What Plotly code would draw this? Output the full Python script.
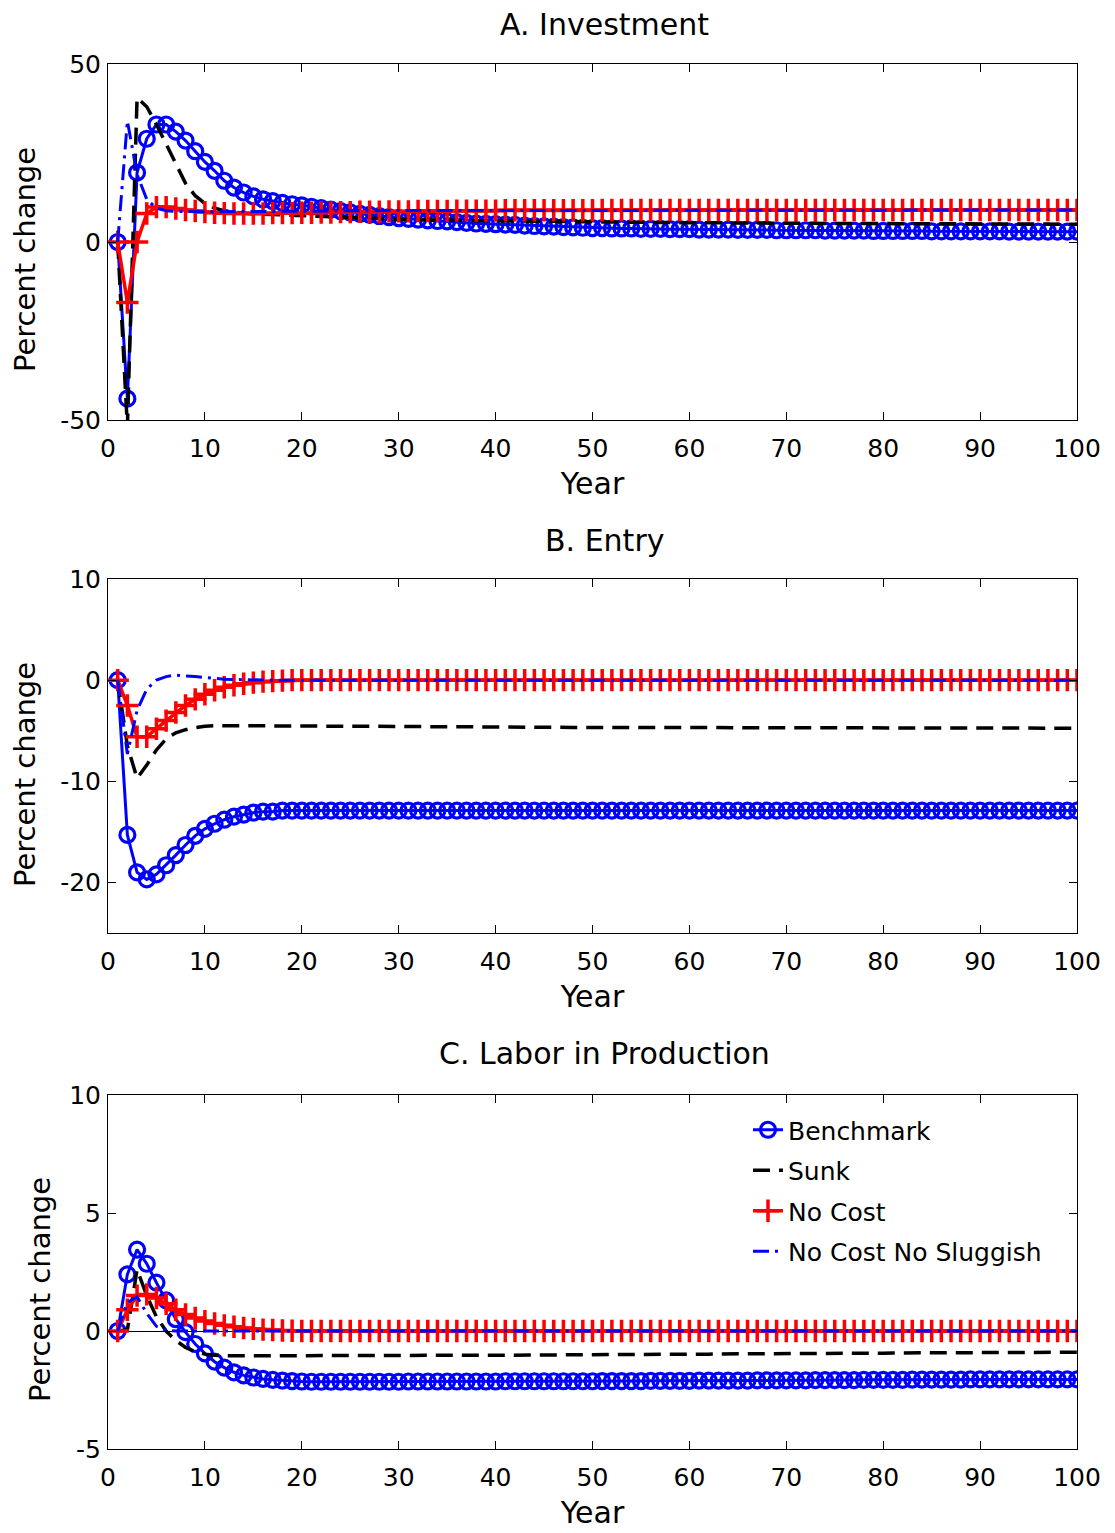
import plotly.graph_objects as go

years = list(range(1, 101))

# ---------------- Panel A: Investment ----------------
inv_bench = [0, -44, 19.5, 29, 33, 33, 31, 28.5, 25.5, 22.5,
             20, 17.2, 15.3, 13.9, 12.8, 12.0, 11.5, 11.0, 10.6, 10.3,
             9.9, 9.5, 9.1, 8.7, 8.3, 7.9, 7.6, 7.3, 7.0, 6.7,
             6.5, 6.3, 6.1, 5.9, 5.8, 5.6, 5.4, 5.2, 5.1, 5.0,
             4.9, 4.8, 4.6, 4.5, 4.4, 4.3, 4.2, 4.1, 4.0, 3.9,
             3.9, 3.8, 3.8, 3.8, 3.7, 3.7, 3.7, 3.6, 3.6, 3.6,
             3.5, 3.5, 3.5, 3.5, 3.4, 3.4, 3.4, 3.4, 3.3, 3.3,
             3.3, 3.3, 3.3, 3.2, 3.2, 3.2, 3.2, 3.2, 3.1, 3.1,
             3.1, 3.1, 3.1, 3.1, 3.0, 3.0, 3.0, 3.0, 3.0, 3.0,
             3.0, 3.0, 2.9, 2.9, 2.9, 2.9, 2.9, 2.9, 2.9, 2.9]
inv_sunk = [0, -52, 40.5, 38, 33, 27.5, 21.5, 16.5, 13, 10.8,
            9.5, 8.8, 8.4, 8.1, 7.9, 7.8, 7.7, 7.7, 7.6, 7.6,
            7.5, 7.4, 7.3, 7.2, 7.1, 7.0, 6.8, 6.6, 6.4, 6.3,
            6.3, 6.2, 6.2, 6.2, 6.1, 6.1, 6.1, 6.0, 6.0, 6.0,
            5.95, 5.9, 5.9, 5.85, 5.8, 5.8, 5.75, 5.7, 5.7, 5.65,
            5.6, 5.6, 5.58, 5.55, 5.52, 5.5, 5.48, 5.45, 5.42, 5.4,
            5.4, 5.38, 5.36, 5.34, 5.32, 5.3, 5.3, 5.28, 5.27, 5.26,
            5.25, 5.24, 5.23, 5.22, 5.21, 5.2, 5.19, 5.18, 5.17, 5.16,
            5.15, 5.14, 5.13, 5.12, 5.11, 5.1, 5.09, 5.08, 5.07, 5.06,
            5.05, 5.04, 5.04, 5.03, 5.03, 5.02, 5.02, 5.01, 5.01, 5.0]
inv_nocost = [0, -17, 0, 8, 9.8, 9.8, 9.4, 9.0, 8.7, 8.4,
              8.2, 8.1, 8.0, 8.0, 8.0, 8.0, 8.1, 8.1, 8.1, 8.2,
              8.2, 8.3, 8.3, 8.4, 8.4, 8.5, 8.5, 8.5, 8.6, 8.6,
              8.6, 8.7, 8.7, 8.7, 8.7, 8.8, 8.8, 8.8, 8.8, 8.8,
              8.9, 8.9, 8.9, 8.9, 8.9, 8.9, 8.9, 8.9, 8.9, 8.9,
              9.0, 9.0, 9.0, 9.0, 9.0, 9.0, 9.0, 9.0, 9.0, 9.0,
              9.0, 9.0, 9.0, 9.0, 9.0, 9.0, 9.0, 9.0, 9.0, 9.0,
              9.0, 9.0, 9.0, 9.0, 9.0, 9.0, 9.0, 9.0, 9.0, 9.0,
              9.0, 9.0, 9.0, 9.0, 9.0, 9.0, 9.0, 9.0, 9.0, 9.0,
              9.0, 9.0, 9.0, 9.0, 9.0, 9.0, 9.0, 9.0, 9.0, 9.0]
inv_ncns = [0, 34, 19, 12, 9.5, 8.8, 8.6, 8.5, 8.5, 8.5,
            8.5, 8.5, 8.5, 8.6, 8.6, 8.6, 8.6, 8.6, 8.7, 8.7,
            8.7, 8.7, 8.7, 8.8, 8.8, 8.8, 8.8, 8.8, 8.8, 8.9,
            8.9, 8.9, 8.9, 8.9, 8.9, 8.9, 8.9, 8.9, 8.9, 8.9,
            8.9, 8.9, 8.9, 8.9, 8.9, 8.9, 8.9, 8.9, 8.9, 8.9,
            9.0, 9.0, 9.0, 9.0, 9.0, 9.0, 9.0, 9.0, 9.0, 9.0,
            9.0, 9.0, 9.0, 9.0, 9.0, 9.0, 9.0, 9.0, 9.0, 9.0,
            9.0, 9.0, 9.0, 9.0, 9.0, 9.0, 9.0, 9.0, 9.0, 9.0,
            9.0, 9.0, 9.0, 9.0, 9.0, 9.0, 9.0, 9.0, 9.0, 9.0,
            9.0, 9.0, 9.0, 9.0, 9.0, 9.0, 9.0, 9.0, 9.0, 9.0]

# ---------------- Panel B: Entry ----------------
ent_bench = [0, -15.3, -19.0, -19.7, -19.2, -18.3, -17.3, -16.3, -15.4, -14.7,
             -14.2, -13.8, -13.5, -13.3, -13.1, -13.0, -13.0, -12.9, -12.9, -12.9,
             -12.9, -12.9, -12.9, -12.9, -12.9, -12.9, -12.9, -12.9, -12.9, -12.9,
             -12.9, -12.9, -12.9, -12.9, -12.9, -12.9, -12.9, -12.9, -12.9, -12.9,
             -12.9, -12.9, -12.9, -12.9, -12.9, -12.9, -12.9, -12.9, -12.9, -12.9,
             -12.9, -12.9, -12.9, -12.9, -12.9, -12.9, -12.9, -12.9, -12.9, -12.9,
             -12.9, -12.9, -12.9, -12.9, -12.9, -12.9, -12.9, -12.9, -12.9, -12.9,
             -12.9, -12.9, -12.9, -12.9, -12.9, -12.9, -12.9, -12.9, -12.9, -12.9,
             -12.9, -12.9, -12.9, -12.9, -12.9, -12.9, -12.9, -12.9, -12.9, -12.9,
             -12.9, -12.9, -12.9, -12.9, -12.9, -12.9, -12.9, -12.9, -12.9, -12.9]
ent_sunk = [0, -6.5, -9.7, -8.4, -6.9, -5.8, -5.2, -4.9, -4.7, -4.55,
            -4.5, -4.5, -4.5, -4.5, -4.5, -4.5, -4.5, -4.5, -4.5, -4.5,
            -4.5, -4.51, -4.52, -4.53, -4.54, -4.55, -4.56, -4.56, -4.57, -4.58,
            -4.58, -4.59, -4.6, -4.6, -4.61, -4.61, -4.62, -4.62, -4.63, -4.63,
            -4.64, -4.64, -4.65, -4.65, -4.66, -4.66, -4.66, -4.67, -4.67, -4.67,
            -4.68, -4.68, -4.68, -4.69, -4.69, -4.69, -4.7, -4.7, -4.7, -4.7,
            -4.71, -4.71, -4.71, -4.71, -4.72, -4.72, -4.72, -4.72, -4.72, -4.73,
            -4.73, -4.73, -4.73, -4.73, -4.73, -4.74, -4.74, -4.74, -4.74, -4.74,
            -4.74, -4.74, -4.74, -4.75, -4.75, -4.75, -4.75, -4.75, -4.75, -4.75,
            -4.75, -4.75, -4.75, -4.75, -4.75, -4.75, -4.75, -4.75, -4.75, -4.75]
ent_nocost = [0, -2.5, -5.6, -5.6, -4.8, -4.0, -3.2, -2.5, -1.9, -1.4,
              -1.0, -0.7, -0.5, -0.35, -0.25, -0.15, -0.1, -0.05, 0, 0,
              0, 0, 0, 0, 0, 0, 0, 0, 0, 0,
              0, 0, 0, 0, 0, 0, 0, 0, 0, 0,
              0, 0, 0, 0, 0, 0, 0, 0, 0, 0,
              0, 0, 0, 0, 0, 0, 0, 0, 0, 0,
              0, 0, 0, 0, 0, 0, 0, 0, 0, 0,
              0, 0, 0, 0, 0, 0, 0, 0, 0, 0,
              0, 0, 0, 0, 0, 0, 0, 0, 0, 0,
              0, 0, 0, 0, 0, 0, 0, 0, 0, 0]
ent_ncns = [0, -7.3, -3.0, -0.9, 0.0, 0.35, 0.5, 0.45, 0.35, 0.25,
            0.15, 0.1, 0.06, 0.03, 0.01, 0, 0, 0, 0, 0,
            0, 0, 0, 0, 0, 0, 0, 0, 0, 0,
            0, 0, 0, 0, 0, 0, 0, 0, 0, 0,
            0, 0, 0, 0, 0, 0, 0, 0, 0, 0,
            0, 0, 0, 0, 0, 0, 0, 0, 0, 0,
            0, 0, 0, 0, 0, 0, 0, 0, 0, 0,
            0, 0, 0, 0, 0, 0, 0, 0, 0, 0,
            0, 0, 0, 0, 0, 0, 0, 0, 0, 0,
            0, 0, 0, 0, 0, 0, 0, 0, 0, 0]

# ---------------- Panel C: Labor in Production ----------------
lab_bench = [0, 2.4, 3.45, 2.85, 2.05, 1.3, 0.5, -0.05, -0.55, -0.95,
             -1.3, -1.55, -1.75, -1.88, -1.97, -2.03, -2.07, -2.1, -2.12, -2.14,
             -2.15, -2.15, -2.15, -2.15, -2.15, -2.15, -2.15, -2.15, -2.15, -2.15,
             -2.14, -2.14, -2.14, -2.14, -2.14, -2.14, -2.14, -2.14, -2.14, -2.14,
             -2.13, -2.13, -2.13, -2.13, -2.13, -2.13, -2.13, -2.13, -2.13, -2.13,
             -2.12, -2.12, -2.12, -2.12, -2.12, -2.11, -2.11, -2.11, -2.11, -2.11,
             -2.1, -2.1, -2.1, -2.1, -2.1, -2.1, -2.09, -2.09, -2.09, -2.09,
             -2.09, -2.09, -2.08, -2.08, -2.08, -2.08, -2.08, -2.07, -2.07, -2.07,
             -2.07, -2.07, -2.06, -2.06, -2.06, -2.06, -2.06, -2.06, -2.05, -2.05,
             -2.05, -2.05, -2.05, -2.05, -2.05, -2.05, -2.05, -2.05, -2.05, -2.05]
lab_sunk = [0, 0.05, 2.6, 1.5, 0.6, 0.0, -0.4, -0.7, -0.88, -0.98,
            -1.03, -1.05, -1.05, -1.05, -1.05, -1.05, -1.05, -1.05, -1.05, -1.05,
            -1.05, -1.05, -1.05, -1.05, -1.05, -1.05, -1.05, -1.05, -1.05, -1.05,
            -1.05, -1.04, -1.04, -1.04, -1.04, -1.04, -1.03, -1.03, -1.03, -1.03,
            -1.03, -1.02, -1.02, -1.02, -1.02, -1.02, -1.01, -1.01, -1.01, -1.01,
            -1.0, -1.0, -1.0, -1.0, -0.99, -0.99, -0.99, -0.99, -0.98, -0.98,
            -0.98, -0.98, -0.97, -0.97, -0.97, -0.97, -0.96, -0.96, -0.96, -0.96,
            -0.95, -0.95, -0.95, -0.95, -0.95, -0.94, -0.94, -0.94, -0.94, -0.94,
            -0.93, -0.93, -0.93, -0.93, -0.93, -0.92, -0.92, -0.92, -0.92, -0.92,
            -0.91, -0.91, -0.91, -0.91, -0.91, -0.9, -0.9, -0.9, -0.9, -0.9]
lab_nocost = [0, 0.9, 1.5, 1.55, 1.4, 1.15, 0.9, 0.7, 0.55, 0.42,
              0.32, 0.24, 0.18, 0.13, 0.09, 0.06, 0.04, 0.02, 0.01, 0,
              0, 0, 0, 0, 0, 0, 0, 0, 0, 0,
              0, 0, 0, 0, 0, 0, 0, 0, 0, 0,
              0, 0, 0, 0, 0, 0, 0, 0, 0, 0,
              0, 0, 0, 0, 0, 0, 0, 0, 0, 0,
              0, 0, 0, 0, 0, 0, 0, 0, 0, 0,
              0, 0, 0, 0, 0, 0, 0, 0, 0, 0,
              0, 0, 0, 0, 0, 0, 0, 0, 0, 0,
              0, 0, 0, 0, 0, 0, 0, 0, 0, 0]
lab_ncns = [0, 1.2, 1.45, 0.75, 0.2, 0.03, 0, 0, 0, 0,
            0, 0, 0, 0, 0, 0, 0, 0, 0, 0,
            0, 0, 0, 0, 0, 0, 0, 0, 0, 0,
            0, 0, 0, 0, 0, 0, 0, 0, 0, 0,
            0, 0, 0, 0, 0, 0, 0, 0, 0, 0,
            0, 0, 0, 0, 0, 0, 0, 0, 0, 0,
            0, 0, 0, 0, 0, 0, 0, 0, 0, 0,
            0, 0, 0, 0, 0, 0, 0, 0, 0, 0,
            0, 0, 0, 0, 0, 0, 0, 0, 0, 0,
            0, 0, 0, 0, 0, 0, 0, 0, 0, 0]

series_names = ["Benchmark", "Sunk", "No Cost", "No Cost No Sluggish"]
panel_titles = ["A. Investment", "B. Entry", "C. Labor in Production"]
panel_series = [
    [inv_bench, inv_sunk, inv_nocost, inv_ncns],
    [ent_bench, ent_sunk, ent_nocost, ent_ncns],
    [lab_bench, lab_sunk, lab_nocost, lab_ncns],
]
x_ticks = [0, 10, 20, 30, 40, 50, 60, 70, 80, 90, 100]
y_ticks = [[-50, 0, 50], [-20, -10, 0, 10], [-5, 0, 5, 10]]
y_tick_text = [["-50", "0", "50"], ["-20", "-10", "0", "10"], ["-5", "0", "5", "10"]]
y_ranges = [[-50, 50], [-25, 10], [-5, 10]]
x_title = "Year"
y_title = "Percent change"

BLUE = "#0000FF"
RED = "#FF0000"
FONT = "DejaVu Sans"

styles = [
    dict(mode="lines+markers", line=dict(color=BLUE, width=3),
         marker=dict(symbol="circle-open", size=15, color=BLUE,
                     line=dict(width=3.2, color=BLUE))),
    dict(mode="lines", line=dict(color="black", width=3.5, dash="17px,9px")),
    dict(mode="lines+markers", line=dict(color=RED, width=3.5),
         marker=dict(symbol="cross-thin-open", size=16, color=RED,
                     line=dict(width=3.5, color=RED))),
    dict(mode="lines", line=dict(color=BLUE, width=3, dash="16px,6px,3px,6px")),
]

# page is offset by the 8px body margin of the browser
OFF = 8
W, H = 1115, 1533
ml, mr = 108 - OFF, W - (1077 - OFF)
mt, mb = 64 - OFF, H - (1449 - OFF)
plot_h = H - mt - mb
tops = [64, 579, 1095]
bots = [420, 933, 1449]


def py(page_y):
    """page pixel row -> paper y"""
    return 1 - (page_y - 64) / plot_h


domains = [[py(b), py(t)] for t, b in zip(tops, bots)]
domains[2][0] = 0.0
domains[0][1] = 1.0

fig = go.Figure()
for p in range(3):
    xa = "x" if p == 0 else f"x{p + 1}"
    ya = "y" if p == 0 else f"y{p + 1}"
    for s in range(4):
        fig.add_trace(go.Scatter(
            x=years, y=panel_series[p][s], name=series_names[s],
            legendgroup=series_names[s], showlegend=(p == 2),
            xaxis=xa, yaxis=ya, **styles[s]))

axis_common = dict(showline=True, linecolor="black", linewidth=1, mirror="allticks",
                   ticks="inside", ticklen=8, tickwidth=1, tickcolor="black",
                   showgrid=False, tickfont=dict(family=FONT, size=25, color="black"))

layout = dict(
    width=W, height=H,
    margin=dict(l=ml, r=mr, t=mt, b=mb),
    paper_bgcolor="white", plot_bgcolor="white",
    font=dict(family=FONT, color="black"),
    showlegend=True,
    legend=dict(x=(748 - OFF - ml) / (W - ml - mr), y=py(1107),
                xanchor="left", yanchor="top",
                bgcolor="rgba(0,0,0,0)", font=dict(family=FONT, size=25),
                traceorder="grouped", tracegroupgap=5),
    annotations=[],
)
title_centers = [24, 540, 1053]
ytitle_centers = [260, 775, 1290]
ytitle_x = [25, 25, 40]
for p in range(3):
    xk = "xaxis" if p == 0 else f"xaxis{p + 1}"
    yk = "yaxis" if p == 0 else f"yaxis{p + 1}"
    ya = "y" if p == 0 else f"y{p + 1}"
    xa = "x" if p == 0 else f"x{p + 1}"
    layout[xk] = dict(axis_common, domain=[0, 1], anchor=ya, range=[0, 100],
                      tickvals=x_ticks, zeroline=False, ticklabelstandoff=6,
                      title=dict(text=x_title, font=dict(family=FONT, size=30), standoff=10))
    layout[yk] = dict(axis_common, domain=domains[p], anchor=xa, range=y_ranges[p],
                      tickvals=y_ticks[p], ticktext=y_tick_text[p],
                      zeroline=(p == 2), zerolinecolor="black",
                      zerolinewidth=1, ticklabelstandoff=1)
    layout["annotations"].append(dict(
        text=panel_titles[p], xref="paper", yref="paper",
        x=0.512, y=py(title_centers[p]), xanchor="center", yanchor="middle",
        showarrow=False, font=dict(family=FONT, size=30, color="black")))
    layout["annotations"].append(dict(
        text=y_title, xref="paper", yref="paper", textangle=-90,
        x=0, xshift=ytitle_x[p] - 108, y=py(ytitle_centers[p]),
        xanchor="center", yanchor="middle",
        showarrow=False, font=dict(family=FONT, size=29, color="black")))

fig.update_layout(**layout)
fig.write_html("out.html")
